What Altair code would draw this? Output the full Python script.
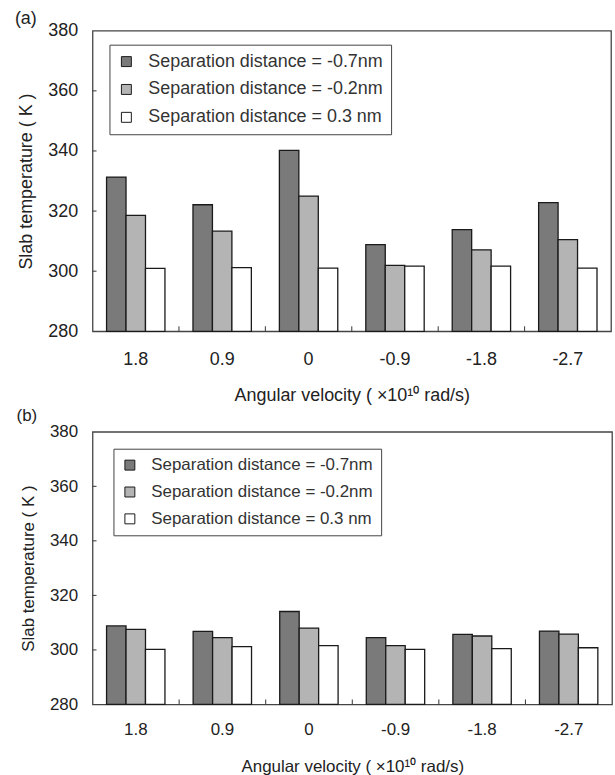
import altair as alt
import pandas as pd

categories = ["1.8", "0.9", "0", "-0.9", "-1.8", "-2.7"]
series = [
    "Separation distance = -0.7nm",
    "Separation distance = -0.2nm",
    "Separation distance = 0.3 nm",
]
colors = ["#7a7a7a", "#b4b4b4", "#ffffff"]

a_s1 = [331.3, 322.1, 340.2, 308.8, 313.8, 322.8]
a_s2 = [318.6, 313.3, 325.0, 301.9, 307.1, 310.5]
a_s3 = [300.9, 301.2, 301.0, 301.7, 301.7, 301.0]

b_s1 = [308.8, 306.8, 314.1, 304.5, 305.7, 306.9]
b_s2 = [307.5, 304.5, 308.0, 301.6, 305.1, 305.8]
b_s3 = [300.2, 301.2, 301.6, 300.2, 300.5, 300.8]

y_ticks = [280, 300, 320, 340, 360, 380]
y_domain = [280, 380]
x_title = "Angular velocity ( ×10¹⁰  rad/s)"
y_title = "Slab temperature ( K )"
FONT = "Liberation Sans"
TXT = "#222222"


def panel(label, s1, s2, s3, w, h, fs, lx, ly, row_pad, title_offset,
          x_lab_pad, x_title_pad):
    rows = []
    for name, vals in zip(series, [s1, s2, s3]):
        for c, v in zip(categories, vals):
            rows.append({"cat": c, "series": name, "value": v})
    df = pd.DataFrame(rows)

    xscale = alt.Scale(domain=categories, paddingInner=0, paddingOuter=0)
    yscale = alt.Scale(domain=y_domain, nice=False, zero=False)
    xaxis = alt.Axis(
        title=x_title, labelAngle=0, ticks=False, domain=False,
        labelFontSize=fs, labelFont=FONT, labelColor=TXT, labelPadding=x_lab_pad,
        titleFontSize=fs, titleFont=FONT, titleColor=TXT,
        titleFontWeight="normal", titlePadding=x_title_pad,
    )
    yaxis = alt.Axis(
        title=y_title, values=y_ticks, ticks=False, domain=False, grid=False,
        labelFontSize=fs, labelFont=FONT, labelColor=TXT, labelPadding=15,
        titleFontSize=fs, titleFont=FONT, titleColor=TXT,
        titleFontWeight="normal", titlePadding=12,
    )

    bars = alt.Chart(df).mark_bar(stroke="#1a1a1a", strokeWidth=1.3).encode(
        x=alt.X("cat:N", sort=categories, scale=xscale, axis=xaxis),
        xOffset=alt.XOffset(
            "series:N", sort=series,
            scale=alt.Scale(domain=series, paddingInner=0, paddingOuter=0.72),
        ),
        y=alt.Y("value:Q", scale=yscale, axis=yaxis),
        y2=alt.datum(280),
        color=alt.Color(
            "series:N", sort=series,
            scale=alt.Scale(domain=series, range=colors),
            legend=alt.Legend(
                title=None, orient="none", legendX=lx, legendY=ly,
                symbolType="square", symbolSize=100,
                symbolStrokeColor="#1a1a1a", symbolStrokeWidth=1,
                labelFontSize=fs, labelFont=FONT, labelColor="#333333",
                labelLimit=500, labelOffset=13, rowPadding=row_pad,
                padding=8, strokeColor="#444444", fillColor="white",
            ),
        ),
    )

    xt = pd.DataFrame({"cat": categories[1:]})
    xticks = alt.Chart(xt).mark_rule(color="#333333", strokeWidth=1).encode(
        x=alt.X("cat:N", sort=categories, bandPosition=0, scale=xscale, axis=xaxis),
        y=alt.value(h),
        y2=alt.value(h - 5),
    )

    yt = pd.DataFrame({"value": y_ticks[1:-1]})
    yticks = alt.Chart(yt).mark_rule(color="#333333", strokeWidth=1).encode(
        y=alt.Y("value:Q", scale=yscale, axis=yaxis),
        x=alt.value(0),
        x2=alt.value(4),
    )

    return alt.layer(bars, xticks, yticks).properties(
        width=w, height=h,
        title=alt.TitleParams(
            label, anchor="start", frame="bounds", fontSize=fs, font=FONT,
            fontWeight="normal", color=TXT, offset=title_offset, dx=-3,
        ),
    )


pa = panel("(a)", a_s1, a_s2, a_s3, 521, 302, 18, 17, 14, 10, -6, 19, 19)
pb = panel("(b)", b_s1, b_s2, b_s3, 522, 274, 17, 21, 17, 9, -2, 17, 21)

chart = alt.vconcat(pa, pb, spacing=0).resolve_scale(
    color="independent", y="independent", x="independent"
).resolve_legend(color="independent").properties(
    padding={"left": 14, "top": 7, "right": 2, "bottom": 0}
).configure_view(stroke="#444444", strokeWidth=1.3)

chart.save("out.html", embed_options={"renderer": "svg", "actions": False})
